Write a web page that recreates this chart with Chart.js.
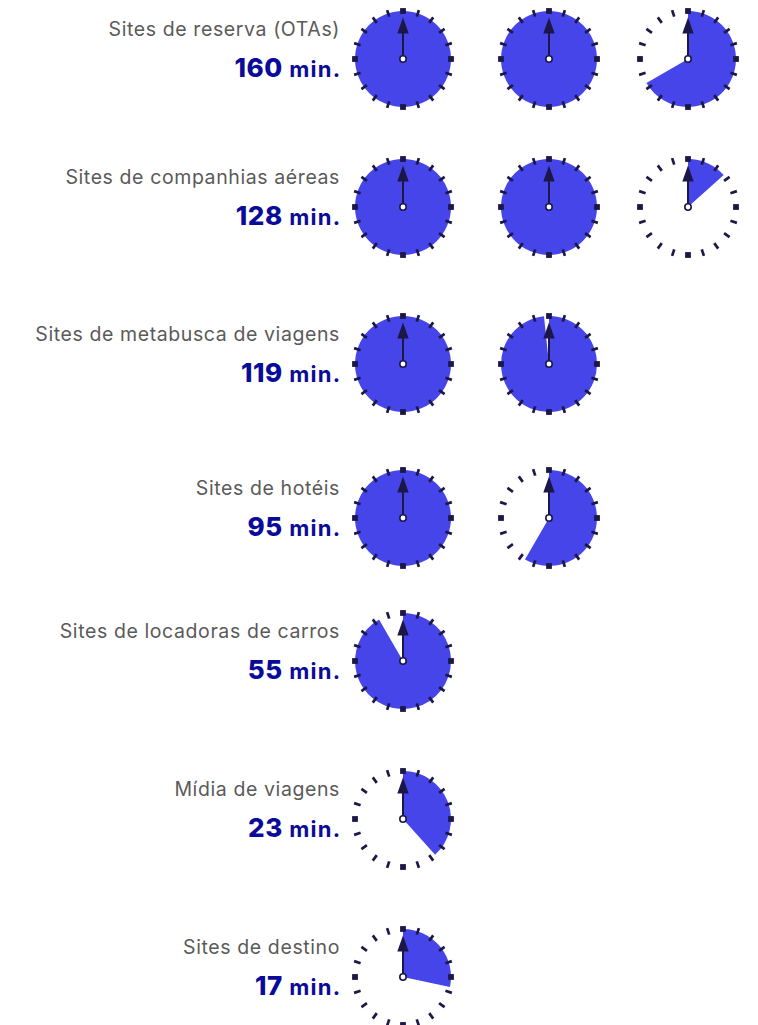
<!DOCTYPE html>
<html lang="pt">
<head>
<meta charset="utf-8">
<title>Tempo gasto por tipo de site</title>
<script src="https://cdn.jsdelivr.net/npm/chart.js@4/dist/chart.umd.min.js"></script>
<style>
  html, body { margin: 0; padding: 0; background: #ffffff; }
  #stage { position: relative; width: 758px; height: 1025px; overflow: hidden; }
  .label {
    position: absolute; right: 418px; white-space: nowrap; text-align: right;
    font-family: "Inter", "Open Sans", sans-serif; font-size: 19.5px; color: #5a5a5a;
    letter-spacing: 0.6px; line-height: 22px;
  }
  .value {
    position: absolute; right: 418px; white-space: nowrap; text-align: right;
    font-family: "Inter", "Open Sans", sans-serif; font-weight: 700; color: #0b0b9a;
    line-height: 30px;
  }
  .value .num { font-size: 26px; letter-spacing: 0.6px; font-weight: 800; }
  .value .unit { font-size: 22px; letter-spacing: 1.2px; margin-left: 0px; margin-right: -1.2px; }
  canvas.clock { position: absolute; }
</style>
</head>
<body>
<div id="stage"></div>
<script>
// Categories and minutes spent on each type of site
const categories = [
  "Sites de reserva (OTAs)",
  "Sites de companhias aéreas",
  "Sites de metabusca de viagens",
  "Sites de hotéis",
  "Sites de locadoras de carros",
  "Mídia de viagens",
  "Sites de destino"
];
const minutes = [160, 128, 119, 95, 55, 23, 17];
const unitLabel = "min.";
const minutesPerClock = 60;

// Layout
const colCenters = [403, 549, 688];
const rowCenters = [59, 207, 364, 517.5, 661, 818.5, 976.5];
const CANVAS = 112;
const RADIUS = 48;

const FILL = "#4545ea";
const INK = "#1b1848";

Chart.defaults.animation = false;
Chart.defaults.devicePixelRatio = 1;

// Dial ticks, hand and hub drawn on top of each pie
const clockFace = {
  id: "clockFace",
  afterDatasetsDraw(chart) {
    const arc = chart.getDatasetMeta(0).data[0];
    const cx = arc.x, cy = arc.y, r = arc.outerRadius;
    const ctx = chart.ctx;
    ctx.save();
    ctx.fillStyle = INK;
    ctx.strokeStyle = INK;
    for (let i = 0; i < 20; i++) {
      const a = i * Math.PI / 10;
      ctx.save();
      ctx.translate(cx + Math.sin(a) * r, cy - Math.cos(a) * r);
      ctx.rotate(a);
      if (i % 5 === 0) {
        ctx.fillRect(-2.9, -2.9, 5.8, 5.8);
      } else {
        ctx.fillRect(-1.35, -3.4, 2.7, 6.8);
      }
      ctx.restore();
    }
    // hand
    ctx.lineWidth = 2;
    ctx.beginPath();
    ctx.moveTo(cx, cy - 3);
    ctx.lineTo(cx, cy - 27);
    ctx.stroke();
    ctx.beginPath();
    ctx.moveTo(cx, cy - 41.5);
    ctx.lineTo(cx - 5.7, cy - 25.5);
    ctx.lineTo(cx + 5.7, cy - 25.5);
    ctx.closePath();
    ctx.fill();
    // hub
    ctx.beginPath();
    ctx.arc(cx, cy, 3.2, 0, Math.PI * 2);
    ctx.fillStyle = "#ffffff";
    ctx.fill();
    ctx.lineWidth = 1.6;
    ctx.stroke();
    ctx.restore();
  }
};

const stage = document.getElementById("stage");

categories.forEach((name, row) => {
  const cy = rowCenters[row];

  const label = document.createElement("div");
  label.className = "label";
  label.style.top = (cy - 41) + "px";
  label.textContent = name;
  stage.appendChild(label);

  const value = document.createElement("div");
  value.className = "value";
  value.style.top = (cy - 6) + "px";
  value.innerHTML = '<span class="num">' + minutes[row] + '</span><span class="unit"> ' + unitLabel + '</span>';
  stage.appendChild(value);

  let remaining = minutes[row];
  let col = 0;
  while (remaining > 0) {
    const filled = Math.min(minutesPerClock, remaining);
    remaining -= filled;

    const canvas = document.createElement("canvas");
    canvas.className = "clock";
    canvas.width = CANVAS;
    canvas.height = CANVAS;
    canvas.style.width = CANVAS + "px";
    canvas.style.height = CANVAS + "px";
    canvas.style.left = (colCenters[col] - CANVAS / 2) + "px";
    canvas.style.top = (cy - CANVAS / 2) + "px";
    stage.appendChild(canvas);

    new Chart(canvas, {
      type: "pie",
      data: {
        labels: ["gasto", "restante"],
        datasets: [{
          data: [filled, minutesPerClock - filled],
          backgroundColor: [FILL, "rgba(0,0,0,0)"],
          borderWidth: 0
        }]
      },
      options: {
        responsive: false,
        rotation: 0,
        layout: { padding: (CANVAS - 2 * RADIUS) / 2 },
        plugins: { legend: { display: false }, tooltip: { enabled: false } }
      },
      plugins: [clockFace]
    });
    col++;
  }
});
</script>
</body>
</html>
